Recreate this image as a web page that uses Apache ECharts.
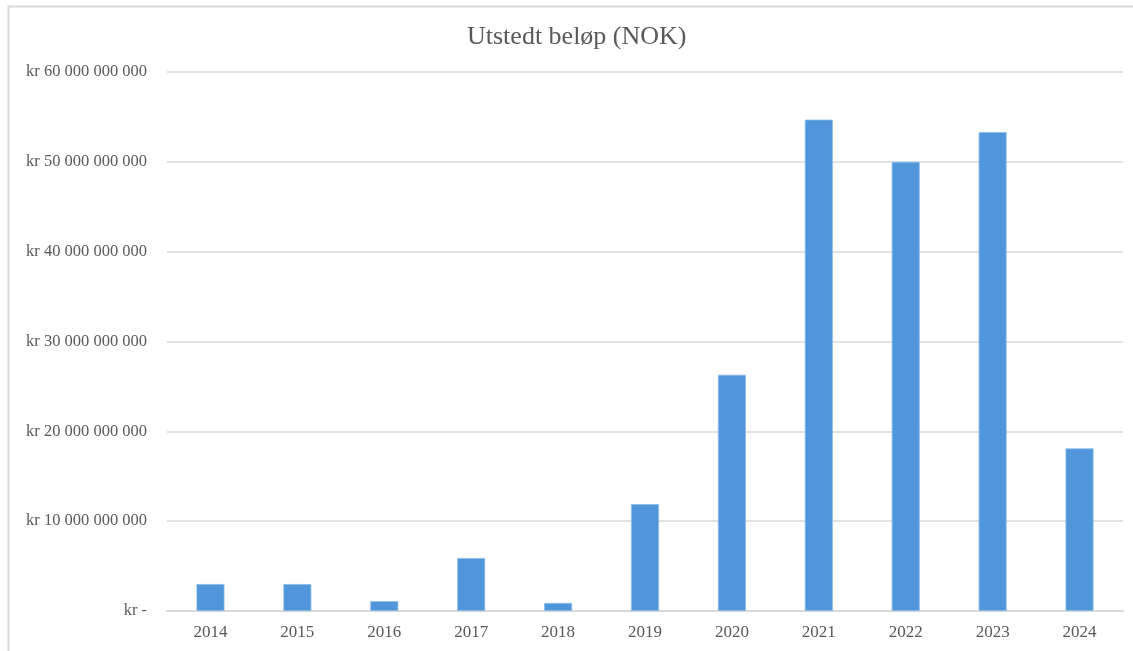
<!DOCTYPE html>
<html>
<head>
<meta charset="utf-8">
<script src="https://cdn.jsdelivr.net/npm/echarts@6/dist/echarts.min.js"></script>
<style>
  html, body { margin: 0; padding: 0; background: #fff; }
  #chart { width: 1133px; height: 651px; }
</style>
</head>
<body>
<div id="chart"></div>
<script>
const years = ['2014', '2015', '2016', '2017', '2018', '2019', '2020', '2021', '2022', '2023', '2024'];
// issued amount in NOK
const amounts = [3.0e9, 3.0e9, 1.1e9, 5.9e9, 0.9e9, 11.9e9, 26.3e9, 54.7e9, 50.0e9, 53.3e9, 18.1e9];

const fmtKr = v => {
    if (v === 0) return 'kr -';
    return 'kr ' + String(v).replace(/\B(?=(\d{3})+(?!\d))/g, ' ');
};

const chart = echarts.init(document.getElementById('chart'));
chart.setOption({
    backgroundColor: '#fff',
    textStyle: { fontFamily: 'Liberation Serif' },
    graphic: [{
        type: 'rect',
        shape: { x: 8.5, y: 6.5, width: 1200, height: 700 },
        style: { fill: null, stroke: '#d9d9d9', lineWidth: 2 },
        silent: true
    }],
    title: {
        text: 'Utstedt beløp (NOK)',
        left: 462,
        top: 19,
        textStyle: {
            fontFamily: 'Liberation Serif',
            fontSize: 26,
            fontWeight: 'normal',
            color: '#595959'
        }
    },
    grid: { left: 167, right: 10, top: 72, bottom: 40 },
    xAxis: {
        type: 'category',
        data: years,
        axisLine: { lineStyle: { color: '#d9d9d9', width: 2 } },
        axisTick: { show: false },
        axisLabel: { color: '#595959', fontSize: 17, margin: 13, fontFamily: 'Liberation Serif' }
    },
    yAxis: {
        type: 'value',
        min: 0,
        max: 60e9,
        interval: 10e9,
        axisLine: { show: false },
        axisTick: { show: false },
        splitLine: { lineStyle: { color: '#d9d9d9', width: 1.5 } },
        axisLabel: {
            color: '#595959',
            fontSize: 16.5,
            margin: 20,
            fontFamily: 'Liberation Serif',
            formatter: fmtKr
        }
    },
    series: [{
        type: 'bar',
        data: amounts,
        barWidth: 28,
        itemStyle: { color: '#5096DA', borderColor: '#8cbbe8', borderWidth: 0.8 },
        animation: false
    }]
});
</script>
</body>
</html>
